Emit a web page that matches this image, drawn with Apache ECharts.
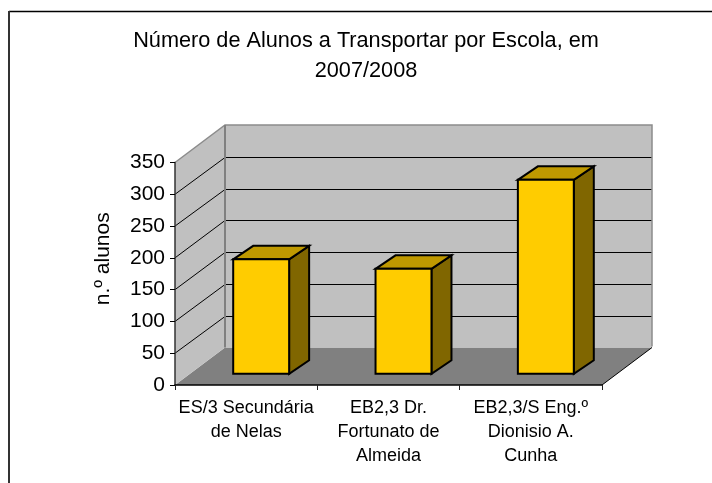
<!DOCTYPE html>
<html><head><meta charset="utf-8">
<style>html,body{margin:0;padding:0;background:#fff}#c{width:712px;height:483px}</style>
<script src="https://cdn.jsdelivr.net/npm/echarts@6/dist/echarts.min.js"></script>
</head><body><div id="c"></div>
<script>
const categories = ['ES/3 Secundária\nde Nelas', 'EB2,3 Dr.\nFortunato de\nAlmeida', 'EB2,3/S Eng.º\nDionisio A.\nCunha'];
const alunos = [180, 165, 305];
const ticks = [50, 100, 150, 200, 250, 300];
const AX_MAX = 350;
// projection of the chart depth, in pixels
const DX = 50, DY = -37.5;
const BAR_W = 0.393, D0 = 0.30, D1 = 0.70;
const FONT = '"Liberation Sans", Arial, sans-serif';
const chart = echarts.init(document.getElementById('c'));

function poly(points, fill, stroke, lw) {
  return { type: 'polygon', shape: { points },
    style: { fill, stroke: stroke || null, lineWidth: lw || 0, lineJoin: 'miter' } };
}
function line(points, stroke, lw) {
  return { type: 'polyline', shape: { points }, style: { fill: null, stroke, lineWidth: lw } };
}
function renderBox(params, api) {
  const lo = api.coord([0, 0]), hi = api.coord([2, AX_MAX]);
  const w = api.size([1, 0])[0];
  const L = lo[0] - w / 2, R = hi[0] + w / 2;
  const B = lo[1], T = hi[1];
  const children = [
    poly([[L + DX, B + DY], [R + DX, B + DY], [R, B], [L, B]], '#808080'),
    poly([[L, T], [L + DX, T + DY], [L + DX, B + DY], [L, B]], '#c0c0c0'),
    poly([[L + DX, T + DY], [R + DX, T + DY], [R + DX, B + DY], [L + DX, B + DY]], '#c0c0c0')
  ];
  ticks.forEach(v => {
    const y = api.coord([0, v])[1];
    const by = Math.round(y + DY) + 0.5;
    children.push(line([[L, y], [L + DX, by], [R + DX, by]], '#000', 1));
  });
  children.push(line([[L, T], [L + DX, T + DY], [R + DX, T + DY], [R + DX, B + DY - 1]], '#8c8c8c', 1.5));
  children.push(line([[L + DX, T + DY], [L + DX, B + DY]], '#808080', 2));
  children.push(line([[R, B], [R + DX, B + DY]], '#000', 1));
  return { type: 'group', children };
}
function renderBar(params, api) {
  const i = api.value(0), v = api.value(1);
  const w = api.size([1, 0])[0];
  const c = api.coord([i, 0])[0];
  const base = api.coord([i, 0])[1], top = api.coord([i, v])[1];
  const hw = w * BAR_W / 2;
  const x0 = c - hw + D0 * DX, x1 = c + hw + D0 * DX;
  const y0 = base + D0 * DY, y1 = top + D0 * DY;
  const dx = (D1 - D0) * DX, dy = (D1 - D0) * DY * 0.9;
  const s = '#000', lw = 2;
  return { type: 'group', children: [
    poly([[x1, y1], [x1 + dx, y1 + dy], [x1 + dx, y0 + dy], [x1, y0]], '#806600', s, lw),
    poly([[x0, y1], [x0 + dx, y1 + dy], [x1 + dx, y1 + dy], [x1, y1]], '#bf9900', s, lw),
    poly([[x0, y1], [x1, y1], [x1, y0], [x0, y0]], '#ffcc00', s, lw)
  ]};
}
chart.setOption({
  animation: false,
  backgroundColor: '#fff',
  title: {
    text: 'Número de Alunos a Transportar por Escola, em\n2007/2008',
    left: 361, top: 21, textAlign: 'center',
    textStyle: { fontFamily: FONT, fontSize: 21.7, fontWeight: 'normal', color: '#000', lineHeight: 30 }
  },
  graphic: [
    { type: 'line', silent: true, shape: { x1: 9, y1: 11.5, x2: 712, y2: 11.5 }, style: { stroke: '#000', lineWidth: 1.5 } },
    { type: 'line', silent: true, shape: { x1: 9, y1: 11, x2: 9, y2: 483 }, style: { stroke: '#333', lineWidth: 2 } }
  ],
  grid: { left: 175, right: 110, top: 162.5, bottom: 98 },
  xAxis: { type: 'category', data: categories, z: 5,
    axisLine: { lineStyle: { color: '#000', width: 1.5 } },
    axisTick: { show: true, length: 5, lineStyle: { color: '#222' }, alignWithLabel: false },
    axisLabel: { interval: 0, margin: 11, fontFamily: FONT, fontSize: 18, color: '#000', lineHeight: 24 } },
  yAxis: { type: 'value', min: 0, max: AX_MAX, interval: 50, z: 5,
    name: 'n.º alunos', nameLocation: 'middle', nameGap: 61, nameRotate: 90,
    nameTextStyle: { fontFamily: FONT, fontSize: 21, color: '#000', padding: [0, 0, 0, 30] },
    axisLine: { show: true, lineStyle: { color: '#333', width: 1.5 } },
    axisTick: { show: true, length: 5, lineStyle: { color: '#000' } },
    axisLabel: { margin: 10, fontFamily: FONT, fontSize: 21, color: '#000' },
    splitLine: { show: false } },
  series: [
    { type: 'custom', z: 1, silent: true, renderItem: renderBox, data: [[0, 0]], clip: false },
    { type: 'custom', z: 2, renderItem: renderBar, clip: false,
      encode: { x: 0, y: 1 },
      data: alunos.map((v, i) => [i, v]) }
  ]
});
</script></body></html>
